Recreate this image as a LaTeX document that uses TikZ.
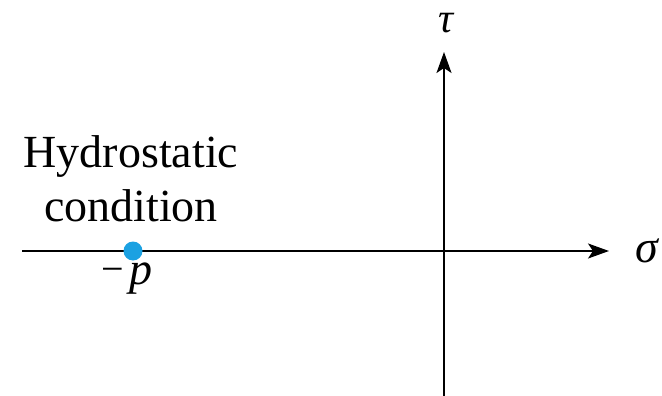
\documentclass[tikz,border=0pt]{standalone}
\usepackage{fontspec}
\setmainfont{Liberation Serif}
\usetikzlibrary{arrows.meta}
\definecolor{dotblue}{RGB}{27,161,226}
\tikzset{
  axis/.style={line width=2pt,-{Stealth[length=21pt,width=15pt,inset=5pt]}},
  lbl/.style={font=\fontsize{46}{52}\selectfont, inner sep=0pt, anchor=base},
  sym/.style={font=\fontsize{46}{52}\selectfont\itshape, inner sep=0pt, anchor=base}
}
\begin{document}
\begin{tikzpicture}[x=1pt,y=-1pt]
\useasboundingbox (0,0) rectangle (662,396);
\coordinate (hs) at (22,251);
\coordinate (he) at (609,251);
\coordinate (vs) at (444,396);
\coordinate (ve) at (444,52);
\draw[axis] (hs) -- (he);
\draw[axis] (vs) -- (ve);
\node[sym,font=\fontsize{42}{48}\selectfont\itshape] (tau) at (446,33) {τ};
\node[sym] (sigma) at (647,262) {σ};
\fill[dotblue] (133,251) circle (9.5);
\node[sym,anchor=base west] (p) at (101,284) {\raisebox{2pt}{\upshape\fontsize{40}{44}\selectfont −}\hspace{6pt}p};
\node[lbl] (h1) at (131,167) {Hydrostatic};
\node[lbl] (h2) at (131,221) {condition};
\end{tikzpicture}
\end{document}
